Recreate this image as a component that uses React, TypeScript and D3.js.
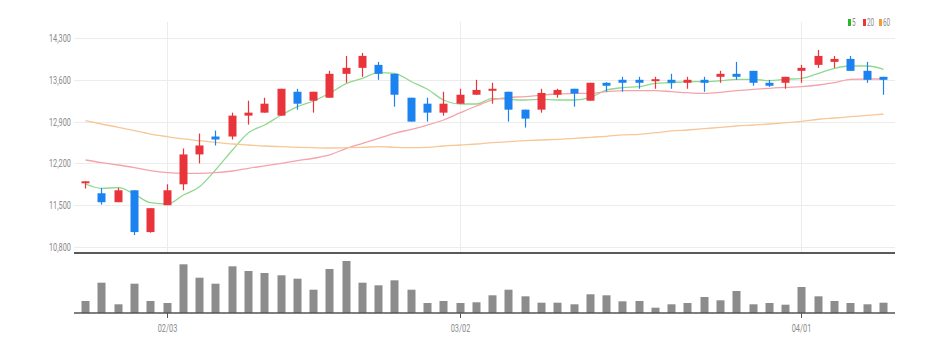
import React, { useEffect, useRef } from 'react';
import * as d3 from 'd3';

const dates = [
  '01/24', '01/25', '01/26', '01/27', '01/28', '02/03', '02/04', '02/07', '02/08', '02/09',
  '02/10', '02/11', '02/14', '02/15', '02/16', '02/17', '02/18', '02/21', '02/22', '02/23',
  '02/24', '02/25', '02/28', '03/02', '03/03', '03/04', '03/07', '03/08', '03/10', '03/11',
  '03/14', '03/15', '03/16', '03/17', '03/18', '03/21', '03/22', '03/23', '03/24', '03/25',
  '03/28', '03/29', '03/30', '03/31', '04/01', '04/04', '04/05', '04/06', '04/07', '04/08',
];
const tickDates = ['02/03', '03/02', '04/01'];

const opens = [
  11880, 11700, 11550, 11750, 11050, 11500, 11850, 12350, 12650, 12650,
  13000, 13050, 13000, 13400, 13250, 13300, 13700, 13800, 13850, 13700,
  13300, 13200, 13050, 13200, 13350, 13420, 13400, 13100, 13100, 13350,
  13450, 13250, 13550, 13600, 13600, 13580, 13600, 13550, 13600, 13650,
  13700, 13750, 13550, 13550, 13750, 13850, 13900, 13950, 13750, 13650,
];
const highs = [
  11900, 11790, 11790, 11750, 11450, 11850, 12450, 12700, 12750, 13050,
  13250, 13300, 13450, 13450, 13400, 13750, 14000, 14050, 13900, 13700,
  13300, 13300, 13400, 13450, 13600, 13550, 13400, 13100, 13450, 13450,
  13450, 13550, 13560, 13650, 13650, 13650, 13700, 13650, 13650, 13750,
  13900, 13750, 13600, 13650, 13850, 14100, 14000, 14000, 13900, 13650,
];
const lows = [
  11780, 11510, 11550, 11000, 11040, 11500, 11750, 12200, 12500, 12600,
  12850, 13050, 13000, 13100, 13050, 13300, 13550, 13650, 13600, 13150,
  12900, 12900, 13000, 13200, 13350, 13200, 12900, 12800, 13050, 13300,
  13150, 13250, 13400, 13400, 13450, 13450, 13450, 13450, 13400, 13550,
  13600, 13500, 13480, 13450, 13550, 13800, 13800, 13750, 13550, 13350,
];
const closes = [
  11900, 11550, 11750, 11050, 11450, 11750, 12350, 12500, 12600, 13000,
  13050, 13200, 13450, 13200, 13400, 13700, 13800, 14000, 13700, 13350,
  12900, 13050, 13200, 13350, 13430, 13450, 13100, 12950, 13380, 13430,
  13370, 13550, 13500, 13550, 13550, 13610, 13550, 13600, 13550, 13700,
  13650, 13550, 13500, 13650, 13800, 14000, 13950, 13750, 13600, 13600,
];
const volumes = [
  120000, 303000, 87000, 293000, 120000, 100000, 487000, 353000, 293000, 467000,
  420000, 400000, 377000, 343000, 233000, 440000, 520000, 303000, 277000, 327000,
  233000, 100000, 120000, 100000, 107000, 177000, 233000, 167000, 103000, 103000,
  87000, 187000, 177000, 117000, 120000, 53000, 87000, 100000, 160000, 127000,
  220000, 87000, 100000, 83000, 260000, 167000, 120000, 100000, 87000, 103000,
];
const ma5 = [
  11855, 11783, 11793, 11683, 11542, 11520, 11671, 11810, 12090, 12424,
  12714, 12843, 13010, 13150, 13245, 13374, 13541, 13625, 13720, 13709,
  13568, 13441, 13262, 13195, 13195, 13290, 13273, 13262, 13273, 13262,
  13262, 13307, 13429, 13468, 13485, 13541, 13551, 13568, 13568, 13585,
  13608, 13608, 13585, 13608, 13625, 13709, 13793, 13831, 13831, 13776,
];
const ma20 = [
  12257, 12212, 12173, 12128, 12078, 12044, 12034, 12034, 12044, 12073,
  12118, 12157, 12202, 12246, 12286, 12341, 12453, 12537, 12620, 12704,
  12771, 12843, 12927, 13049, 13161, 13262, 13307, 13317, 13345, 13362,
  13374, 13374, 13401, 13418, 13418, 13418, 13401, 13384, 13374, 13391,
  13418, 13441, 13458, 13474, 13485, 13513, 13551, 13608, 13613, 13613,
];
const ma60 = [
  12915, 12860, 12805, 12748, 12692, 12647, 12609, 12580, 12553, 12525,
  12508, 12491, 12480, 12470, 12463, 12458, 12463, 12470, 12480, 12470,
  12463, 12470, 12491, 12508, 12525, 12547, 12563, 12580, 12592, 12603,
  12620, 12637, 12654, 12676, 12687, 12714, 12743, 12759, 12781, 12805,
  12826, 12843, 12860, 12882, 12905, 12939, 12960, 12982, 13005, 13027,
];
const priceTicks = [10800, 11500, 12200, 12900, 13600, 14300];
const maSeries = [
  { name: '5', values: ma5, line: '#8fd98f', key: '#27b827' },
  { name: '20', values: ma20, line: '#f5a3ab', key: '#e8343a' },
  { name: '60', values: ma60, line: '#f7c797', key: '#f39a3a' },
];

const W = 944;
const H = 352;
const UP = '#e8343a';
const DOWN = '#1c82ef';
const FONT = "Roboto, 'Noto Sans', sans-serif";
const NARROW = 0.64; // the original uses a condensed face

const CandleChart: React.FC = () => {
  const svgRef = useRef<SVGSVGElement>(null);

  useEffect(() => {
    if (!svgRef.current) return;
    const svg = d3.select(svgRef.current);
    svg.selectAll('*').remove();

    const left = 74;
    const right = 895;
    const x = d3.scaleBand<string>().domain(dates).range([left - 1, right]).padding(0.5);
    const cx = (d: string) => Math.round((x(d) ?? 0) + x.bandwidth() / 2) + 0.5;
    const bodyW = 8;

    const y = d3.scaleLinear().domain([10800, 14300]).range([247, 38]);
    const yv = d3.scaleLinear().domain([0, 520000]).range([313, 261]);
    const priceBottom = 253;

    // grid
    svg.append('g')
      .selectAll('line')
      .data(priceTicks)
      .enter().append('line')
      .attr('x1', left).attr('x2', right)
      .attr('y1', d => Math.round(y(d)) + 0.5).attr('y2', d => Math.round(y(d)) + 0.5)
      .attr('stroke', '#ececec');

    svg.append('g')
      .selectAll('line')
      .data(tickDates)
      .enter().append('line')
      .attr('x1', cx).attr('x2', cx)
      .attr('y1', 22).attr('y2', priceBottom)
      .attr('stroke', '#ececec');

    // y labels
    svg.append('g')
      .selectAll('text')
      .data(priceTicks)
      .enter().append('text')
      .attr('transform', d => `translate(71,${y(d)}) scale(${NARROW},1)`)
      .attr('dy', '0.35em')
      .attr('text-anchor', 'end')
      .style('font-family', FONT)
      .style('font-size', '11.5px')
      .style('fill', '#8a8a8a')
      .text(d => d3.format(',')(d));

    // moving averages
    maSeries.forEach(s => {
      const line = d3.line<number>()
        .x((_, i) => cx(dates[i]))
        .y(v => y(v))
        .curve(d3.curveMonotoneX);
      svg.append('path')
        .attr('d', line(s.values))
        .attr('fill', 'none')
        .attr('stroke', s.line)
        .attr('stroke-width', 1.3);
    });

    // candles
    const candles = svg.append('g')
      .selectAll('g')
      .data(dates)
      .enter().append('g');

    candles.append('line')
      .attr('x1', cx).attr('x2', cx)
      .attr('y1', (_, i) => y(highs[i])).attr('y2', (_, i) => y(lows[i]))
      .attr('stroke', (_, i) => closes[i] >= opens[i] ? UP : DOWN)
      .attr('stroke-width', 1.2);

    candles.append('rect')
      .attr('x', d => cx(d) - bodyW / 2)
      .attr('width', bodyW)
      .attr('y', (_, i) => y(Math.max(opens[i], closes[i])))
      .attr('height', (_, i) => Math.max(2, Math.abs(y(opens[i]) - y(closes[i]))))
      .attr('fill', (_, i) => closes[i] >= opens[i] ? UP : DOWN);

    // price pane bottom
    svg.append('line')
      .attr('x1', left).attr('x2', right)
      .attr('y1', priceBottom).attr('y2', priceBottom)
      .attr('stroke', '#222')
      .attr('stroke-width', 1.5);

    // volume
    svg.append('g')
      .selectAll('rect')
      .data(volumes)
      .enter().append('rect')
      .attr('x', (_, i) => cx(dates[i]) - bodyW / 2)
      .attr('width', bodyW)
      .attr('y', v => yv(v))
      .attr('height', v => yv(0) - yv(v))
      .attr('fill', '#8c8c8c');

    svg.append('line')
      .attr('x1', left).attr('x2', right)
      .attr('y1', yv(0)).attr('y2', yv(0))
      .attr('stroke', '#555')
      .attr('stroke-width', 1.5);

    const xt = svg.append('g')
      .selectAll('g')
      .data(tickDates)
      .enter().append('g')
      .attr('transform', d => `translate(${cx(d)},${yv(0)})`);
    xt.append('line').attr('y1', 0).attr('y2', 5).attr('stroke', '#555');
    xt.append('text')
      .attr('transform', `translate(0,15) scale(${NARROW},1)`)
      .attr('dy', '0.35em')
      .attr('text-anchor', 'middle')
      .style('font-family', FONT)
      .style('font-size', '11.5px')
      .style('fill', '#8a8a8a')
      .text(d => d);

    // legend
    const legendX = [848, 863, 879];
    const lg = svg.append('g')
      .selectAll('g')
      .data(maSeries)
      .enter().append('g')
      .attr('transform', (_, i) => `translate(${legendX[i]},19)`);
    lg.append('rect').attr('width', 3).attr('height', 7).attr('fill', s => s.key);
    lg.append('text')
      .attr('transform', `translate(4,3.5) scale(${NARROW},1)`)
      .attr('dy', '0.35em')
      .style('font-family', FONT)
      .style('font-size', '10px')
      .style('fill', '#8a8a8a')
      .text(s => s.name);
  }, []);

  return (
    <svg ref={svgRef} width={W} height={H}
      style={{ position: 'absolute', left: 0, top: 0, background: '#fff' }} />
  );
};

export default function App() {
  return <CandleChart />;
}
